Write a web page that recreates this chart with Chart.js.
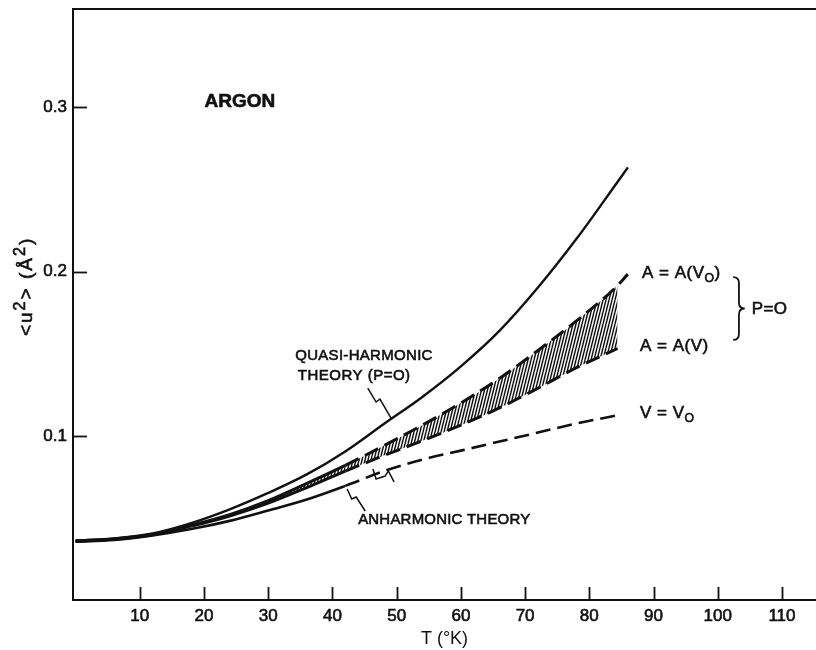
<!DOCTYPE html>
<html>
<head>
<meta charset="utf-8">
<title>Argon &lt;u²&gt; vs T</title>
<script src="https://cdn.jsdelivr.net/npm/chart.js@4.4.1/dist/chart.umd.min.js"></script>
<style>
    html, body { margin: 0; padding: 0; background: #fff; }
    #wrap { width: 816px; height: 650px; }
</style>
</head>
<body>
<div id="wrap"><canvas id="argonChart" width="816" height="650"></canvas></div>
<script>
// Values: T in °K, <u²> in Å²
const quasiT = [0, 6, 12, 18, 24, 30, 36, 42, 48, 54, 60, 66, 72, 78, 84, 86];
const quasiU = [0.0362, 0.0375, 0.0405, 0.0468, 0.0552, 0.0652, 0.0765, 0.0905, 0.1072, 0.1237, 0.1423, 0.1639, 0.1903, 0.2200, 0.2525, 0.2635];

const upperT = [0, 6, 12, 18, 24, 30, 36, 42, 48, 54, 60, 66, 72, 78, 84, 86];
const upperU = [0.0360, 0.0372, 0.0400, 0.0455, 0.0520, 0.0605, 0.0710, 0.0820, 0.0940, 0.1065, 0.1200, 0.1350, 0.1520, 0.1700, 0.1900, 0.1985];

const lowerT = [0, 6, 12, 18, 24, 30, 36, 42, 48, 54, 60, 66, 72, 78, 84.4];
const lowerU = [0.0358, 0.0370, 0.0397, 0.0450, 0.0512, 0.0590, 0.0685, 0.0785, 0.0880, 0.0970, 0.1065, 0.1170, 0.1290, 0.1415, 0.1532];

const anharmT = [0, 6, 12, 18, 24, 30, 36, 42, 48, 54, 60, 66, 72, 78, 85];
const anharmU = [0.0355, 0.0366, 0.0393, 0.0432, 0.0482, 0.0545, 0.0612, 0.0695, 0.0785, 0.0855, 0.0910, 0.0965, 0.1020, 0.1075, 0.1130];

const xTicks = [10, 20, 30, 40, 50, 60, 70, 80, 90, 100, 110];
const yTicks = [0.1, 0.2, 0.3];

const INK = '#111';
const FONT = '"Liberation Sans", Arial, sans-serif';

// Text placed on the plot, positioned in data units
const notes = [
    { runs: [{ t: 'ARGON' }], x: 25.6, y: 0.3033, size: 19, weight: '600', align: 'center' },
    { runs: [{ t: 'QUASI-HARMONIC' }], x: 34.2, y: 0.1486, size: 15, align: 'left', spacing: 0.3 },
    { runs: [{ t: 'THEORY (P=O)' }], x: 34.6, y: 0.1364, size: 15, align: 'left', spacing: 0.5 },
    { runs: [{ t: 'ANHARMONIC THEORY' }], x: 44.0, y: 0.0487, size: 15, align: 'left', spacing: 0.2 },
    { runs: [{ t: 'A = A(V' }, { t: 'O', sub: true }, { t: ')' }], x: 88.2, y: 0.1992, size: 17, align: 'left', spacing: 0.5 },
    { runs: [{ t: 'A = A(V)' }], x: 87.9, y: 0.1544, size: 17, align: 'left', spacing: 0.5 },
    { runs: [{ t: 'P=O' }], x: 105.3, y: 0.1770, size: 17, align: 'left', spacing: 0.3 },
    { runs: [{ t: 'V = V' }, { t: 'O', sub: true }], x: 87.9, y: 0.1140, size: 17, align: 'left', spacing: 0.5 }
];

// Little zig-zag leader lines
const leaders = [
    [[45.5, 0.1291], [46.8, 0.1206], [47.4, 0.1224], [49.1, 0.1109]],
    [[42.3, 0.0676], [43.0, 0.0615], [43.7, 0.0627], [45.1, 0.0542]],
    [[46.3, 0.0798], [46.8, 0.0737], [48.2, 0.0755], [48.7, 0.0786], [49.6, 0.0719]]
];

document.addEventListener('DOMContentLoaded', function() {
    initializeChart();
});

function toPoints(xs, ys) {
    return xs.map((x, i) => ({ x: x, y: ys[i] }));
}

// Dense, steep hatching for the A(V0)..A(V) band
function makeHatch() {
    const c = document.createElement('canvas');
    c.width = 3;
    c.height = 12;
    const g = c.getContext('2d');
    g.strokeStyle = INK;
    g.lineWidth = 1.4;
    for (let k = -1; k <= 1; k++) {
        g.beginPath();
        g.moveTo(k * 3, 12);
        g.lineTo(k * 3 + 3, 0);
        g.stroke();
    }
    return g.createPattern(c, 'repeat');
}

function dashedFrom(startT) {
    return ctx => ctx.p0.parsed.x >= startT ? [15, 7] : [];
}

function drawRuns(ctx, note, px, py) {
    const small = note.small || 0.72;
    const fontFor = r => (note.weight || '400') + ' ' + (r.sub || r.sup ? note.size * small : note.size) + 'px ' + FONT;
    ctx.letterSpacing = (note.spacing || 0) + 'px';
    let width = 0;
    note.runs.forEach(r => {
        ctx.font = fontFor(r);
        width += ctx.measureText(r.t).width;
    });
    let cx = note.align === 'center' ? px - width / 2 : px;
    ctx.lineWidth = 0.6;
    note.runs.forEach(r => {
        ctx.font = fontFor(r);
        const dy = r.sub ? note.size * 0.35 : (r.sup ? -note.size * 0.35 : 0);
        ctx.fillText(r.t, cx, py + dy);
        ctx.strokeText(r.t, cx, py + dy);
        cx += ctx.measureText(r.t).width;
    });
    ctx.letterSpacing = '0px';
}

// Frame, inward ticks, labels, leaders, brace and the y title
const figureMarks = {
    id: 'figureMarks',
    afterDatasetsDraw(chart) {
        const ctx = chart.ctx;
        const xs = chart.scales.x;
        const ys = chart.scales.y;
        const area = chart.chartArea;
        ctx.save();
        ctx.strokeStyle = INK;
        ctx.fillStyle = INK;

        // top edge of the frame
        ctx.lineWidth = 2;
        ctx.beginPath();
        ctx.moveTo(area.left, area.top);
        ctx.lineTo(area.right, area.top);
        ctx.stroke();

        // inward tick marks
        ctx.lineWidth = 1.8;
        xTicks.forEach(v => {
            const px = Math.round(xs.getPixelForValue(v)) + 0.5;
            ctx.beginPath();
            ctx.moveTo(px, area.bottom);
            ctx.lineTo(px, area.bottom - 13);
            ctx.stroke();
        });
        yTicks.forEach(v => {
            const py = Math.round(ys.getPixelForValue(v)) + 0.5;
            ctx.beginPath();
            ctx.moveTo(area.left, py);
            ctx.lineTo(area.left + 14, py);
            ctx.stroke();
        });

        // leaders
        ctx.lineWidth = 1.5;
        leaders.forEach(path => {
            ctx.beginPath();
            path.forEach((p, i) => {
                const px = xs.getPixelForValue(p[0]);
                const py = ys.getPixelForValue(p[1]);
                if (i === 0) ctx.moveTo(px, py); else ctx.lineTo(px, py);
            });
            ctx.stroke();
        });

        // brace grouping the two P=O curves
        const bx = xs.getPixelForValue(102.4);
        const bm = xs.getPixelForValue(103.3);
        const bt = xs.getPixelForValue(104.2);
        const top = ys.getPixelForValue(0.1967);
        const bot = ys.getPixelForValue(0.1584);
        const mid = (top + bot) / 2;
        ctx.lineWidth = 1.8;
        ctx.beginPath();
        ctx.moveTo(bx, top);
        ctx.quadraticCurveTo(bm, top, bm, top + 6);
        ctx.lineTo(bm, mid - 6);
        ctx.quadraticCurveTo(bm, mid, bt, mid);
        ctx.quadraticCurveTo(bm, mid, bm, mid + 6);
        ctx.lineTo(bm, bot - 6);
        ctx.quadraticCurveTo(bm, bot, bx, bot);
        ctx.stroke();

        // text notes
        ctx.textBaseline = 'middle';
        ctx.textAlign = 'left';
        notes.forEach(n => {
            drawRuns(ctx, n, xs.getPixelForValue(n.x), ys.getPixelForValue(n.y));
        });

        // y axis title, rotated
        ctx.translate(27, ys.getPixelForValue(0.191));
        ctx.rotate(-Math.PI / 2);
        drawRuns(ctx, {
            runs: [{ t: '<u' }, { t: '2', sup: true }, { t: '> (Å' }, { t: '2', sup: true }, { t: ')' }],
            size: 19, align: 'center', spacing: 2, small: 0.85
        }, 0, 0);
        ctx.restore();
    }
};

function initializeChart() {
    const hatch = makeHatch();
    const ctx = document.getElementById('argonChart').getContext('2d');
    new Chart(ctx, {
        type: 'line',
        data: {
            datasets: [{
                label: 'Quasi-harmonic theory (P=0)',
                data: toPoints(quasiT, quasiU),
                borderColor: INK,
                borderWidth: 2.4,
                fill: false
            }, {
                label: 'A = A(V0)',
                data: toPoints(upperT, upperU),
                borderColor: INK,
                borderWidth: 3,
                fill: false,
                segment: { borderDash: dashedFrom(38) }
            }, {
                label: 'A = A(V)',
                data: toPoints(lowerT, lowerU),
                borderColor: INK,
                borderWidth: 3,
                backgroundColor: hatch,
                fill: '-1',
                segment: { borderDash: dashedFrom(38) }
            }, {
                label: 'V = V0',
                data: toPoints(anharmT, anharmU),
                borderColor: INK,
                borderWidth: 2.6,
                fill: false,
                segment: { borderDash: dashedFrom(42) }
            }]
        },
        options: {
            responsive: false,
            animation: false,
            devicePixelRatio: 1,
            layout: { padding: { top: 9, right: 0, left: 0, bottom: 0 } },
            elements: {
                point: { radius: 0 },
                line: { cubicInterpolationMode: 'monotone', borderCapStyle: 'butt' }
            },
            plugins: {
                legend: { display: false },
                tooltip: { enabled: false }
            },
            scales: {
                x: {
                    type: 'linear',
                    min: -0.4,
                    max: 115.3,
                    afterFit: scale => {
                        scale.height = 50;
                        scale.paddingLeft = 0;
                        scale.paddingRight = 0;
                    },
                    afterBuildTicks: scale => { scale.ticks = xTicks.map(v => ({ value: v })); },
                    grid: { display: false, drawTicks: false },
                    border: { display: true, color: INK, width: 2 },
                    ticks: {
                        color: INK,
                        padding: 6,
                        maxRotation: 0,
                        autoSkip: false,
                        textStrokeColor: INK,
                        textStrokeWidth: 0.6,
                        font: { family: FONT, size: 17 }
                    },
                    title: {
                        display: true,
                        text: 'T (°K)',
                        color: INK,
                        font: { family: FONT, size: 18 },
                        padding: { top: 0, bottom: 0 }
                    }
                },
                y: {
                    type: 'linear',
                    min: 0,
                    max: 0.36,
                    afterFit: scale => {
                        scale.width = 73;
                        scale.paddingTop = 0;
                        scale.paddingBottom = 0;
                    },
                    afterBuildTicks: scale => { scale.ticks = yTicks.map(v => ({ value: v })); },
                    grid: { display: false, drawTicks: false },
                    border: { display: true, color: INK, width: 2 },
                    ticks: {
                        color: INK,
                        padding: 6,
                        textStrokeColor: INK,
                        textStrokeWidth: 0.6,
                        font: { family: FONT, size: 17 },
                        callback: v => v.toFixed(1)
                    }
                }
            }
        },
        plugins: [figureMarks]
    });
}
</script>
</body>
</html>
